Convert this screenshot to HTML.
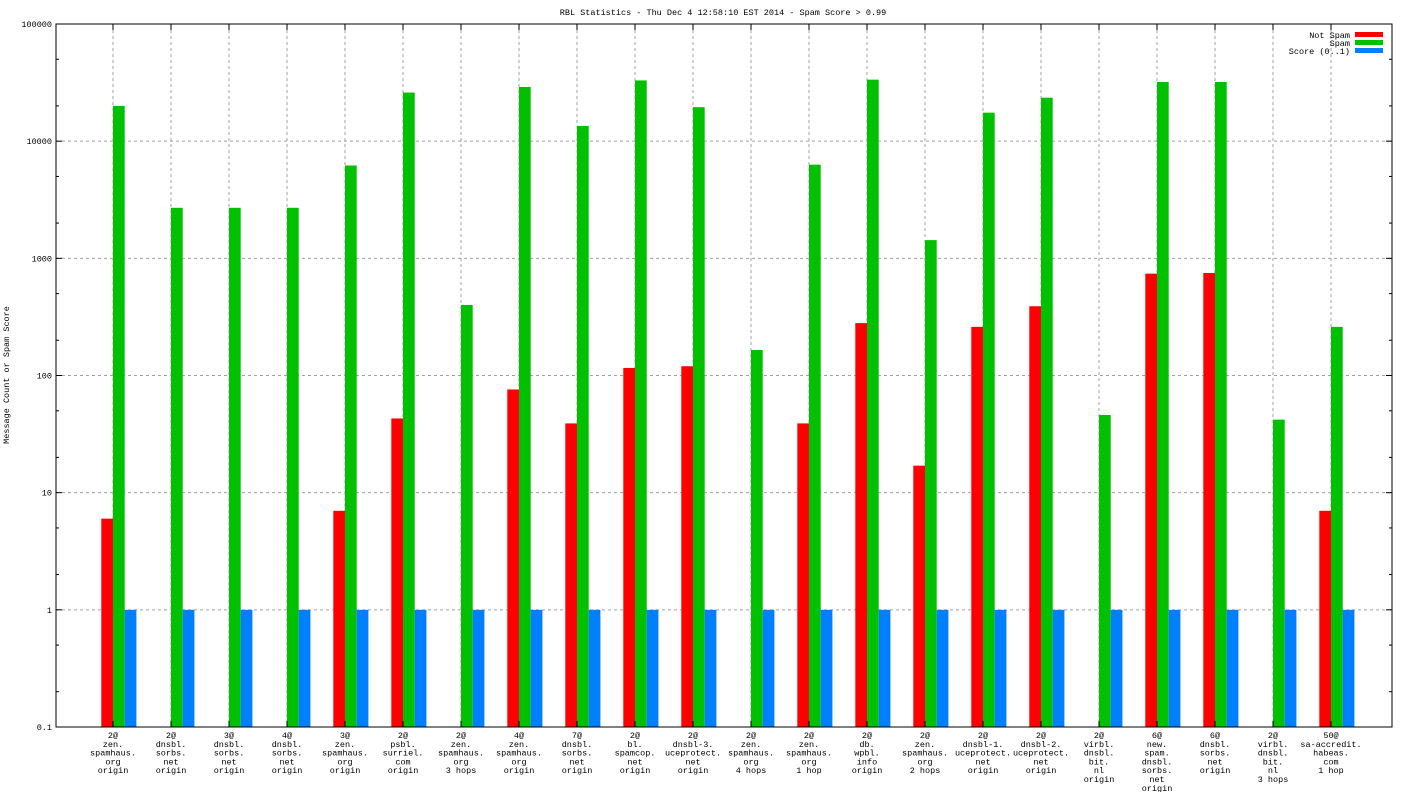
<!DOCTYPE html>
<html><head><meta charset="utf-8"><style>
html,body{margin:0;padding:0;background:#fff;}
svg{display:block;font-family:"Liberation Mono","DejaVu Sans Mono",monospace;font-size:8.5px;}
</style></head><body>
<svg id="chart" width="1408" height="792">
<text x="723" y="15" text-anchor="middle">RBL Statistics - Thu Dec  4 12:58:10 EST 2014 - Spam Score &gt; 0.99</text>
<text transform="translate(9,375) rotate(-90)" text-anchor="middle">Message Count or Spam Score</text>
<g id="grid"></g><g id="bars"></g><g id="axes"></g>
<g>
<text x="1350" y="38" text-anchor="end">Not Spam</text>
<rect x="1355" y="32" width="28" height="5" fill="#ff0000"></rect>
<text x="1350" y="46" text-anchor="end">Spam</text>
<rect x="1355" y="40" width="28" height="5" fill="#00c000"></rect>
<text x="1350" y="54" text-anchor="end">Score (0..1)</text>
<rect x="1355" y="48" width="28" height="5" fill="#0080ff"></rect>
</g>
</svg>
<script>
const categories=[
["2@","zen.","spamhaus.","org","origin"],["2@","dnsbl.","sorbs.","net","origin"],["3@","dnsbl.","sorbs.","net","origin"],["4@","dnsbl.","sorbs.","net","origin"],
["3@","zen.","spamhaus.","org","origin"],["2@","psbl.","surriel.","com","origin"],["2@","zen.","spamhaus.","org","3 hops"],["4@","zen.","spamhaus.","org","origin"],
["7@","dnsbl.","sorbs.","net","origin"],["2@","bl.","spamcop.","net","origin"],["2@","dnsbl-3.","uceprotect.","net","origin"],["2@","zen.","spamhaus.","org","4 hops"],
["2@","zen.","spamhaus.","org","1 hop"],["2@","db.","wpbl.","info","origin"],["2@","zen.","spamhaus.","org","2 hops"],["2@","dnsbl-1.","uceprotect.","net","origin"],
["2@","dnsbl-2.","uceprotect.","net","origin"],["2@","virbl.","dnsbl.","bit.","nl","origin"],["6@","new.","spam.","dnsbl.","sorbs.","net","origin"],["6@","dnsbl.","sorbs.","net","origin"],
["2@","virbl.","dnsbl.","bit.","nl","3 hops"],["50@","sa-accredit.","habeas.","com","1 hop"]];
const notSpam=[6,0,0,0,7,43,0,76,39,116,120,0,39,280,17,260,390,0,740,750,0,7];
const spam=[20000,2700,2700,2700,6200,26000,400,29000,13500,33000,19500,165,6300,33500,1430,17500,23500,46,32000,32000,42,260];
const score=[1,1,1,1,1,1,1,1,1,1,1,1,1,1,1,1,1,1,1,1,1,1];
const yTicks=[0.1,1,10,100,1000,10000,100000];
const yTickLabels=["0.1","1","10","100","1000","10000","100000"];

const L=56,R=1392,T=24,B=727;
const NS="http://www.w3.org/2000/svg";
function y(v){return B-(Math.log10(v)+1)/6*(B-T);}
function x(i){return 113+i*58;}
function mk(tag,attrs,parent){const e=document.createElementNS(NS,tag);for(const k in attrs)e.setAttribute(k,attrs[k]);parent.appendChild(e);return e;}
const grid=document.getElementById('grid'),bars=document.getElementById('bars'),axes=document.getElementById('axes');
yTicks.forEach((t,k)=>{
  const yy=y(t);
  if(k>0&&k<yTicks.length-1){const g=mk('line',{x1:L,x2:R,y1:yy,y2:yy,stroke:'#a0a0a0','stroke-dasharray':'3,3'},grid);
  
  }
  mk('line',{x1:L,x2:L+6,y1:yy,y2:yy,stroke:'#000'},axes);
  mk('line',{x1:R,x2:R-6,y1:yy,y2:yy,stroke:'#000'},axes);
  if(k<yTicks.length-1){[2,5].forEach(m=>{const my=y(t*m);
    mk('line',{x1:L,x2:L+3,y1:my,y2:my,stroke:'#000'},axes);
    mk('line',{x1:R,x2:R-3,y1:my,y2:my,stroke:'#000'},axes);});}
  const tl=mk('text',{x:L-4,y:yy+3,'text-anchor':'end'},axes);
  tl.textContent=yTickLabels[k];
  
  
});
categories.forEach((c,i)=>{
  const cx=x(i);
  const g=mk('line',{x1:cx,x2:cx,y1:T,y2:B,stroke:'#a0a0a0','stroke-dasharray':'3,3'},grid);
  
  
  mk('line',{x1:cx,x2:cx,y1:B,y2:B-6,stroke:'#000'},axes);
  mk('line',{x1:cx,x2:cx,y1:T,y2:T+6,stroke:'#000'},axes);
  const series=[[notSpam,'#ff0000',-11.7,'not-spam'],[spam,'#00c000',0,'spam'],[score,'#0080ff',11.7,'score']];
  series.forEach(s=>{const v=s[0][i]; if(!v)return;
    const yy=y(v);
    const r=mk('rect',{x:cx+s[2],y:yy,width:11.7,height:B-yy,fill:s[1]},bars);
    
    });
  const t=mk('text',{x:cx,y:738,'text-anchor':'middle'},axes);
  
  
  c.forEach((ln,j)=>{const ts=mk('tspan',{x:cx,dy:j?8.8:0},t);ts.textContent=ln;});
});
mk('rect',{x:L,y:T,width:R-L,height:B-T,fill:'none',stroke:'#000'},axes);
</script>
</body></html>
